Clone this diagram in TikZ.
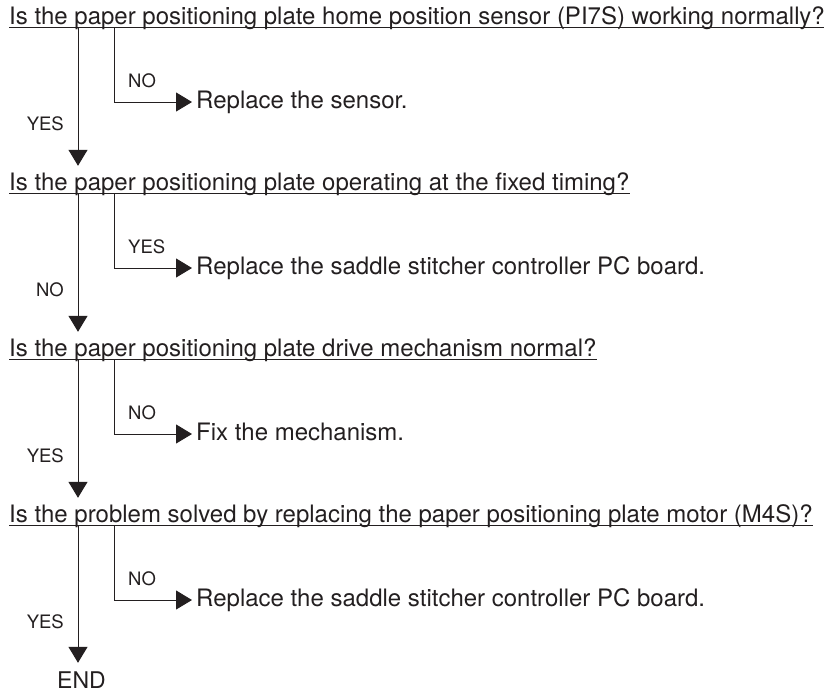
\documentclass[tikz,border=0pt]{standalone}
\usepackage{fontspec}
\setmainfont{TeX Gyre Heros}
\usetikzlibrary{arrows.meta}
\definecolor{ink}{HTML}{231F20}
\begin{document}
\begin{tikzpicture}[x=1pt,y=-1pt,
  q/.style={anchor=base west,inner sep=0pt,text height=17pt,text depth=5pt,text=ink,font=\fontsize{24}{28}\selectfont},
  ans/.style={anchor=west,inner sep=0pt,text height=17pt,text depth=4pt,text=ink,font=\fontsize{24}{28}\selectfont},
  brl/.style={anchor=base west,inner sep=0pt,text=ink,font=\fontsize{18.5}{22}\selectfont},
  mnl/.style={anchor=base east,inner sep=0pt,text=ink,font=\fontsize{18.5}{22}\selectfont},
  flow/.style={line width=1pt,draw=ink,-{Triangle[width=19pt,length=16pt]}},
  uline/.style={line width=1pt,draw=ink}]
\useasboundingbox (0,0) rectangle (824,694);

% Questions
\node[q] (q1) at (9,24.5)  {Is the paper positioning plate home position sensor (PI7S) working normally?};
\node[q] (q2) at (9,190.5) {Is the paper positioning plate operating at the fixed timing?};
\node[q] (q3) at (9,356.5) {Is the paper positioning plate drive mechanism normal?};
\node[q] (q4) at (9,522.5) {Is the problem solved by replacing the paper positioning plate motor (M4S)?};
\foreach \n in {q1,q2,q3,q4}
  \draw[uline] ([yshift=-2.5pt]\n.base west) -- ([yshift=-2.5pt]\n.base east);

% Answers
\node[ans] (a1) at (196,102) {Replace the sensor.};
\node[ans] (a2) at (196,268) {Replace the saddle stitcher controller PC board.};
\node[ans] (a3) at (196,434) {Fix the mechanism.};
\node[ans] (a4) at (196,600) {Replace the saddle stitcher controller PC board.};

\node[anchor=base,inner sep=0pt,text height=16.8pt,text depth=0pt,text=ink,font=\fontsize{23}{28}\selectfont] (end) at (81.5,688.3) {END};

% branch start points on the underlines
\coordinate (m1) at (78,27);  \coordinate (b1) at (114,27);
\coordinate (m2) at (78,193); \coordinate (b2) at (114,193);
\coordinate (m3) at (78,359); \coordinate (b3) at (114,359);
\coordinate (m4) at (78,525); \coordinate (b4) at (114,525);

% branch connectors
\draw[flow,shorten >=4pt] (b1) |- (a1.west);
\draw[flow,shorten >=4pt] (b2) |- (a2.west);
\draw[flow,shorten >=4pt] (b3) |- (a3.west);
\draw[flow,shorten >=4pt] (b4) |- (a4.west);

% main connectors
\draw[flow,shorten >=7.5pt] (m1) -- (m1 |- q2.north);
\draw[flow,shorten >=7.5pt] (m2) -- (m2 |- q3.north);
\draw[flow,shorten >=7.5pt] (m3) -- (m3 |- q4.north);
\draw[flow,shorten >=8.5pt] (m4) -- (m4 |- end.north);

% labels
\node[brl] (n1) at (128,87.5)  {NO};
\node[brl] (n2) at (128,253.5) {YES};
\node[brl] (n3) at (128,419.5) {NO};
\node[brl] (n4) at (128,585.5) {NO};
\node[mnl] (y1) at (64,130.7) {YES};
\node[mnl] (y2) at (64,296.7) {NO};
\node[mnl] (y3) at (64,462.7) {YES};
\node[mnl] (y4) at (64,628.7) {YES};
\end{tikzpicture}
\end{document}
